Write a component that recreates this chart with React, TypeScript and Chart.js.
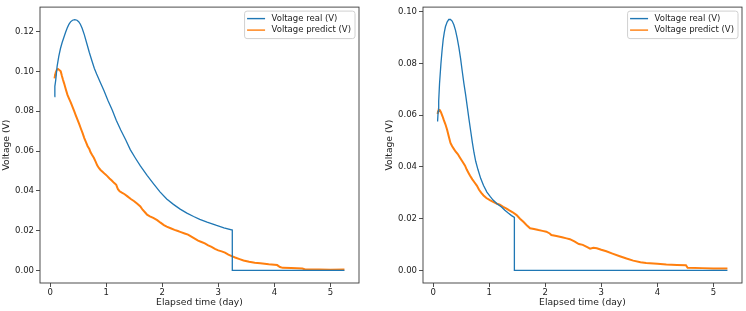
import React, { useEffect, useRef } from "react";
import { Chart, registerables } from "chart.js";

Chart.register(...registerables);

// ---------- data ----------
const xTickValues = [0, 1, 2, 3, 4, 5];
const leftYTickValues = [0, 0.02, 0.04, 0.06, 0.08, 0.1, 0.12];
const rightYTickValues = [0, 0.02, 0.04, 0.06, 0.08, 0.1];
const seriesLabels = ["Voltage real (V)", "Voltage predict (V)"];
const xAxisTitle = "Elapsed time (day)";
const yAxisTitle = "Voltage (V)";

const leftRealPoints: [number, number][] = [
  [0.077, 0.0874], [0.085, 0.0925], [0.1, 0.0955], [0.125, 0.1025], [0.155, 0.1075],
  [0.185, 0.1115], [0.215, 0.1145], [0.245, 0.117], [0.275, 0.1195], [0.305, 0.1218],
  [0.335, 0.1236], [0.365, 0.1249], [0.4, 0.1257], [0.44, 0.126], [0.48, 0.1257],
  [0.51, 0.125], [0.54, 0.1237], [0.57, 0.1218], [0.61, 0.1185], [0.66, 0.1135],
  [0.7, 0.1095], [0.75, 0.105], [0.79, 0.1015], [0.83, 0.0987], [0.9, 0.0942],
  [0.96, 0.0904], [1.03, 0.0855], [1.11, 0.0805], [1.18, 0.0755], [1.26, 0.0706],
  [1.35, 0.0655], [1.43, 0.0607], [1.52, 0.0565], [1.61, 0.0525], [1.73, 0.0478],
  [1.85, 0.0434], [1.96, 0.0395], [2.08, 0.0359], [2.2, 0.0332], [2.32, 0.0308],
  [2.44, 0.0288], [2.56, 0.0271], [2.67, 0.0257], [2.8, 0.0243], [2.97, 0.0226],
  [3.1, 0.0214], [3.25, 0.0203], [3.25, 0.0], [5.25, 0.0],
];

const leftPredPoints: [number, number][] = [
  [0.08, 0.0965], [0.09, 0.0985], [0.1, 0.0995], [0.12, 0.1008], [0.14, 0.1012],
  [0.16, 0.1008], [0.19, 0.1], [0.21, 0.0978], [0.23, 0.0958], [0.25, 0.094],
  [0.28, 0.091], [0.31, 0.0882], [0.34, 0.0862], [0.37, 0.0843], [0.4, 0.0822],
  [0.43, 0.08], [0.46, 0.0778], [0.49, 0.0757], [0.52, 0.0735], [0.55, 0.0712],
  [0.58, 0.069], [0.61, 0.0665], [0.64, 0.0645], [0.67, 0.0624], [0.7, 0.061],
  [0.72, 0.0595], [0.75, 0.058], [0.78, 0.0566], [0.81, 0.0548], [0.84, 0.0528],
  [0.87, 0.0515], [0.9, 0.0505], [0.94, 0.0495], [0.98, 0.0484], [1.02, 0.0474],
  [1.06, 0.0462], [1.1, 0.0452], [1.14, 0.044], [1.18, 0.043], [1.21, 0.0408],
  [1.24, 0.0398], [1.28, 0.0391], [1.33, 0.0383], [1.38, 0.0372], [1.44, 0.0359],
  [1.5, 0.0348], [1.55, 0.0336], [1.61, 0.0322], [1.65, 0.0305], [1.7, 0.029],
  [1.73, 0.028], [1.78, 0.0272], [1.84, 0.0264], [1.91, 0.0253], [1.97, 0.024],
  [2.03, 0.0228], [2.08, 0.022], [2.15, 0.0212], [2.22, 0.0204], [2.28, 0.0198],
  [2.32, 0.0194], [2.4, 0.0186], [2.46, 0.018], [2.52, 0.017], [2.58, 0.016],
  [2.64, 0.015], [2.7, 0.0143], [2.76, 0.0136], [2.82, 0.0126], [2.88, 0.0118],
  [2.94, 0.0108], [3.0, 0.0101], [3.06, 0.0096], [3.12, 0.009], [3.18, 0.008],
  [3.24, 0.0072], [3.3, 0.0065], [3.38, 0.0057], [3.45, 0.005], [3.55, 0.0044],
  [3.65, 0.0039], [3.75, 0.0036], [3.9, 0.0031], [4.05, 0.0027], [4.1, 0.0017],
  [4.15, 0.0013], [4.3, 0.0012], [4.5, 0.001], [4.55, 0.0005], [4.8, 0.0005],
  [5.0, 0.0004], [5.25, 0.0005],
];

const rightRealPoints: [number, number][] = [
  [0.08, 0.0576], [0.09, 0.0615], [0.1, 0.0655], [0.115, 0.0723], [0.14, 0.08],
  [0.16, 0.085], [0.18, 0.0892], [0.2, 0.092], [0.22, 0.0942], [0.25, 0.096],
  [0.28, 0.097], [0.31, 0.097], [0.34, 0.0964], [0.37, 0.095], [0.4, 0.0928],
  [0.43, 0.0898], [0.46, 0.0862], [0.49, 0.082], [0.52, 0.077], [0.55, 0.0722],
  [0.58, 0.068], [0.61, 0.0632], [0.64, 0.0585], [0.67, 0.054], [0.7, 0.0495],
  [0.73, 0.0455], [0.76, 0.0422], [0.8, 0.039], [0.85, 0.0355], [0.9, 0.0328],
  [0.96, 0.0303], [1.02, 0.0285], [1.07, 0.0272], [1.14, 0.0258], [1.22, 0.0245],
  [1.28, 0.0233], [1.34, 0.0222], [1.4, 0.0212], [1.45, 0.0205], [1.45, 0.0],
  [5.25, 0.0],
];

const rightPredPoints: [number, number][] = [
  [0.08, 0.0605], [0.09, 0.0615], [0.1, 0.0621], [0.12, 0.062], [0.14, 0.0612],
  [0.17, 0.0595], [0.19, 0.0582], [0.22, 0.0565], [0.25, 0.0544], [0.28, 0.0518],
  [0.31, 0.0493], [0.34, 0.048], [0.37, 0.047], [0.4, 0.046], [0.44, 0.045],
  [0.48, 0.0436], [0.52, 0.0422], [0.57, 0.0405], [0.6, 0.039], [0.63, 0.0378],
  [0.66, 0.0366], [0.7, 0.0352], [0.74, 0.034], [0.78, 0.0328], [0.82, 0.0312],
  [0.86, 0.03], [0.9, 0.029], [0.95, 0.028], [1.02, 0.0271], [1.08, 0.0264],
  [1.14, 0.0258], [1.19, 0.0254], [1.25, 0.0246], [1.31, 0.0239], [1.36, 0.0232],
  [1.42, 0.0225], [1.49, 0.0214], [1.55, 0.02], [1.61, 0.0188], [1.67, 0.0175],
  [1.73, 0.0163], [1.8, 0.016], [1.88, 0.0156], [1.95, 0.0153], [2.02, 0.015],
  [2.08, 0.0143], [2.11, 0.0137], [2.2, 0.0133], [2.3, 0.0128], [2.38, 0.0124],
  [2.44, 0.0121], [2.52, 0.0112], [2.6, 0.0102], [2.67, 0.0099], [2.75, 0.009],
  [2.8, 0.0084], [2.86, 0.0088], [2.92, 0.0086], [3.0, 0.008], [3.09, 0.0074],
  [3.2, 0.0065], [3.33, 0.0055], [3.45, 0.0046], [3.57, 0.0038], [3.7, 0.0032],
  [3.8, 0.0029], [4.0, 0.0026], [4.16, 0.0023], [4.35, 0.0021], [4.51, 0.002],
  [4.54, 0.001], [4.8, 0.0009], [5.0, 0.0008], [5.25, 0.0008],
];

// ---------- styling ----------
const FONT = "DejaVu Sans";
const TICK_SIZE = 8.5;
const TITLE_SIZE = 9.2;
const LEGEND_SIZE = 8.5;
const BLUE = "#1f77b4";
const ORANGE = "#ff7f0e";
const INK = "#222222";
const SPINE = "#3a3a3a";
const X_MIN = -0.18;
const X_MAX = 5.51;

const mplPlugin = {
  id: "mplFrameLegend",
  afterDatasetsDraw(chart: any) {
    const { ctx, chartArea: ca } = chart;
    ctx.save();
    // frame (all four spines)
    ctx.strokeStyle = SPINE;
    ctx.lineWidth = 0.9;
    ctx.strokeRect(ca.left, ca.top, ca.right - ca.left, ca.bottom - ca.top);

    // legend box (upper right)
    ctx.font = `${LEGEND_SIZE}px "${FONT}"`;
    const items = chart.data.datasets.map((d: any) => ({
      label: d.label as string,
      color: d.borderColor as string,
    }));
    let tw = 0;
    items.forEach((it: any) => {
      tw = Math.max(tw, ctx.measureText(it.label).width);
    });
    const boxW = 27 + tw + 4;
    const boxH = 27.5;
    const bx = ca.right - 4 - boxW;
    const by = ca.top + 4;
    ctx.beginPath();
    if ((ctx as any).roundRect) {
      (ctx as any).roundRect(bx, by, boxW, boxH, 2.5);
    } else {
      ctx.rect(bx, by, boxW, boxH);
    }
    ctx.fillStyle = "rgba(255,255,255,0.85)";
    ctx.fill();
    ctx.strokeStyle = "#d0d0d0";
    ctx.lineWidth = 1;
    ctx.stroke();

    items.forEach((it: any, i: number) => {
      const cy = by + 7.5 + i * 11.5;
      ctx.beginPath();
      ctx.strokeStyle = it.color;
      ctx.lineWidth = 1.4;
      ctx.moveTo(bx + 2.5, cy);
      ctx.lineTo(bx + 20.5, cy);
      ctx.stroke();
      ctx.fillStyle = INK;
      ctx.textBaseline = "middle";
      ctx.textAlign = "left";
      ctx.fillText(it.label, bx + 27, cy);
    });
    ctx.restore();
  },
};

type PanelProps = {
  real: [number, number][];
  pred: [number, number][];
  yMin: number;
  yMax: number;
  yTicks: number[];
  yAxisWidth: number;
  yTitlePad: number;
  rightPad: number;
  width: number;
  left: number;
};

function Panel(props: PanelProps) {
  const ref = useRef<HTMLCanvasElement | null>(null);
  useEffect(() => {
    if (!ref.current) return;
    const tickFont = { family: FONT, size: TICK_SIZE };
    const titleFont = { family: FONT, size: TITLE_SIZE };
    const chart = new Chart(ref.current, {
      type: "line",
      data: {
        datasets: [
          {
            label: seriesLabels[0],
            data: props.real.map(([x, y]) => ({ x, y })),
            borderColor: BLUE,
            backgroundColor: BLUE,
            borderWidth: 1.3,
            pointRadius: 0,
            tension: 0,
          },
          {
            label: seriesLabels[1],
            data: props.pred.map(([x, y]) => ({ x, y })),
            borderColor: ORANGE,
            backgroundColor: ORANGE,
            borderWidth: 2,
            pointRadius: 0,
            tension: 0,
          },
        ],
      },
      options: {
        animation: false,
        responsive: false,
        devicePixelRatio: 1,
        layout: { padding: { top: 3, right: props.rightPad, bottom: 0, left: 0 } },
        plugins: {
          legend: { display: false },
          tooltip: { enabled: false },
        },
        scales: {
          x: {
            type: "linear",
            min: X_MIN,
            max: X_MAX,
            afterBuildTicks: (s: any) => {
              s.ticks = xTickValues.map((v) => ({ value: v }));
            },
            afterFit: (s: any) => {
              s.height = 28;
            },
            ticks: {
              color: INK,
              font: tickFont,
              padding: 1,
              maxRotation: 0,
              callback: (v: any) => String(v),
            },
            grid: {
              drawOnChartArea: false,
              drawTicks: true,
              tickLength: 4,
              color: SPINE,
              tickColor: SPINE,
              lineWidth: 0.9,
            },
            border: { display: false },
            title: {
              display: true,
              text: xAxisTitle,
              color: INK,
              font: titleFont,
              padding: { top: 0, bottom: 2.5 },
            },
          },
          y: {
            type: "linear",
            min: props.yMin,
            max: props.yMax,
            afterBuildTicks: (s: any) => {
              s.ticks = props.yTicks.map((v) => ({ value: v }));
            },
            afterFit: (s: any) => {
              s.width = props.yAxisWidth;
            },
            ticks: {
              color: INK,
              font: tickFont,
              padding: 2,
              callback: (v: any) => Number(v).toFixed(2),
            },
            grid: {
              drawOnChartArea: false,
              drawTicks: true,
              tickLength: 4,
              color: SPINE,
              tickColor: SPINE,
              lineWidth: 0.9,
            },
            border: { display: false },
            title: {
              display: true,
              text: yAxisTitle,
              color: INK,
              font: titleFont,
              padding: { top: props.yTitlePad, bottom: 0 },
            },
          },
        },
      } as any,
      plugins: [mplPlugin],
    });
    return () => chart.destroy();
  }, []);
  return (
    <canvas
      ref={ref}
      width={props.width}
      height={311}
      style={{
        position: "absolute",
        left: props.left,
        top: 0,
        width: props.width,
        height: 311,
        display: "block",
      }}
    />
  );
}

export default function App() {
  return (
    <div
      style={{
        position: "fixed",
        left: 0,
        top: 0,
        width: 746,
        height: 311,
        background: "#ffffff",
        overflow: "hidden",
      }}
    >
      <Panel
        real={leftRealPoints}
        pred={leftPredPoints}
        yMin={-0.0063}
        yMax={0.1323}
        yTicks={leftYTickValues}
        yAxisWidth={40}
        yTitlePad={1.5}
        rightPad={14}
        width={373}
        left={0}
      />
      <Panel
        real={rightRealPoints}
        pred={rightPredPoints}
        yMin={-0.00485}
        yMax={0.1018}
        yTicks={rightYTickValues}
        yAxisWidth={50}
        yTitlePad={11.5}
        rightPad={4}
        width={373}
        left={373}
      />
    </div>
  );
}
